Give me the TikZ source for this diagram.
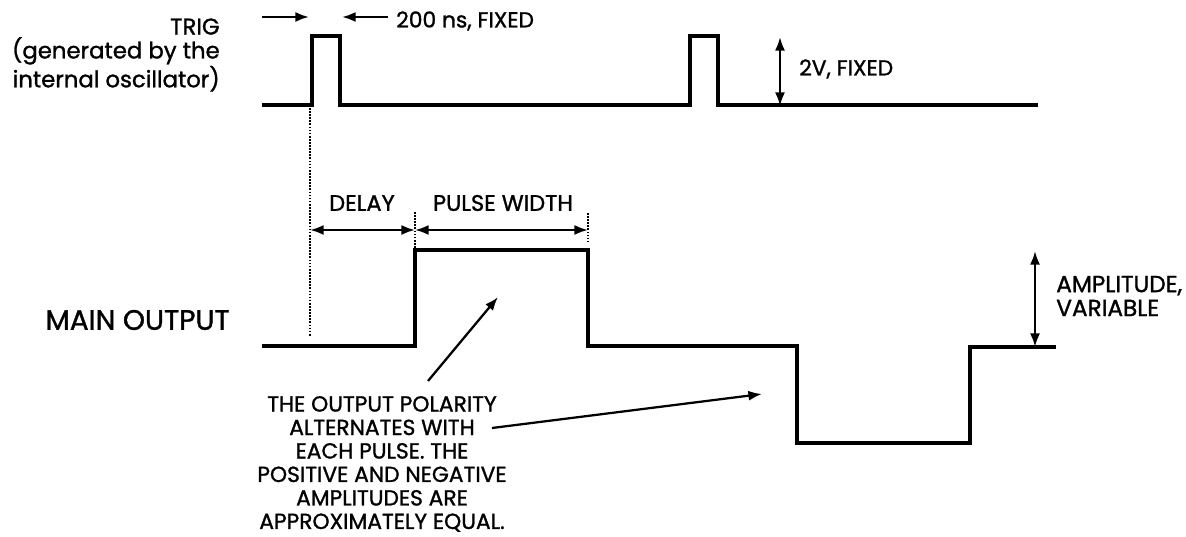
\documentclass[tikz,border=0pt]{standalone}
\usepackage{fontspec}
\setmainfont{Poppins}[FakeBold=1.2]
\usetikzlibrary{arrows.meta,positioning}

\begin{document}
\begin{tikzpicture}[x=0.025cm, y=-0.025cm,
  wave/.style={line width=2.8pt},
  dim/.style={{Latex[length=3.4mm,width=2.5mm]}-{Latex[length=3.4mm,width=2.5mm]}, line width=1.6pt},
  ptr/.style={-{Latex[length=3.4mm,width=2.5mm]}, line width=1.6pt},
  guide/.style={densely dotted, line width=1.2pt},
  lbl/.style={inner sep=0pt, font=\fontsize{15.5}{16.7}\selectfont},
  big/.style={inner sep=0pt, font=\fontsize{20}{22}\selectfont}]
\useasboundingbox (0,0) rectangle (1186,537);

% waveforms
\draw[wave] (262,105) -| (312,36) -| (340,105) -| (690,36) -| (718,105) -- (1038,105);
\draw[wave] (262,346) -| (415,250) -| (588,346) -| (797,443) -| (970,347) -- (1056,347);

% guide lines
\draw[guide] (310,108) -- (310,336);
\draw[guide] (415,212) -- (415,249);
\draw[guide] (588,213) -- (588,242);

% labels
\node[lbl, font=\fontsize{16.2}{17}\selectfont, align=right, anchor=east] (trig) at (220,55) {TRIG\\(generated by the\\internal oscillator)};
\node[big, anchor=east] (main) at (230,320) {MAIN OUTPUT};
\node[lbl, anchor=west] (ns) at (396,21) {200 ns, FIXED};
\node[lbl, anchor=west] (fix) at (799,69) {2V, FIXED};
\node[lbl, font=\fontsize{16.5}{17}\selectfont, align=left, anchor=west] (amp) at (1056,296) {AMPLITUDE,\\VARIABLE};
\node[lbl, font=\fontsize{16}{17}\selectfont] (delay) at (362,203) {DELAY};
\node[lbl, font=\fontsize{16}{17}\selectfont] (width) at (503,203) {PULSE WIDTH};
\node[lbl, align=center] (note) at (382,464) {THE OUTPUT POLARITY\\ALTERNATES WITH\\EACH PULSE. THE\\POSITIVE AND NEGATIVE\\AMPLITUDES ARE\\APPROXIMATELY EQUAL.};

% dimension points
\coordinate (nsL0) at (262,17);
\coordinate (nsL1) at (309,17);
\coordinate (nsR0) at (388,17);
\coordinate (nsR1) at (342,17);
\coordinate (vT) at (780,37);
\coordinate (vB) at (780,106);
\coordinate (aT) at (1035,251);
\coordinate (aB) at (1035,347);
\coordinate (dA) at (310,230);
\coordinate (dB) at (415,230);
\coordinate (dC) at (588,230);
\coordinate (src1) at (428,381);
\coordinate (hi) at (498,297);
\coordinate (src2) at (492,428);
\coordinate (lo) at (762,394);

% arrows
\draw[ptr] (nsL0) -- (nsL1);
\draw[ptr] (nsR0) -- (nsR1);
\draw[dim] (vT) -- (vB);
\draw[dim] (aT) -- (aB);
\draw[dim] (dA) -- (dB);
\draw[dim] (dB) -- (dC);
\draw[ptr] (src1) -- (hi);
\draw[ptr] (src2) -- (lo);
\end{tikzpicture}
\end{document}
